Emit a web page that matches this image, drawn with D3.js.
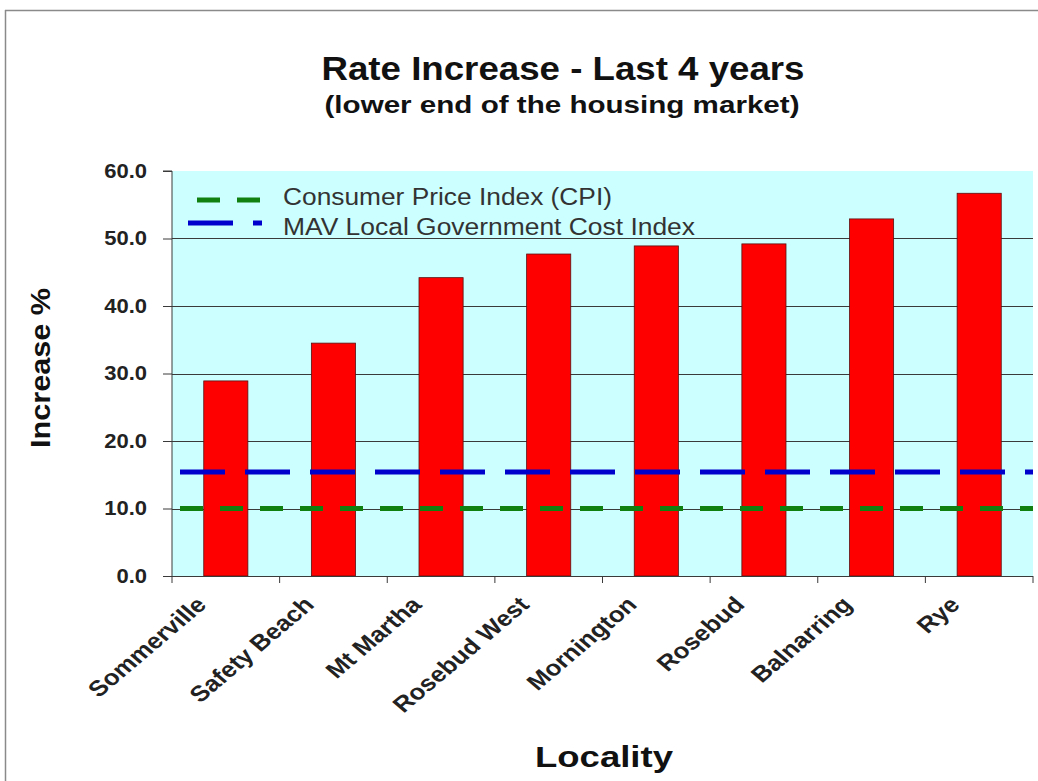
<!DOCTYPE html>
<html>
<head>
<meta charset="utf-8">
<script src="https://cdn.jsdelivr.net/npm/d3@7"></script>
<style>
  html, body { margin: 0; padding: 0; background: #fff; }
  svg { display: block; font-family: "Liberation Sans", Arial, sans-serif; }
</style>
</head>
<body>
<svg id="chart" width="1038" height="781"></svg>
<script>
// ---- data ----
const localities = ["Sommerville", "Safety Beach", "Mt Martha", "Rosebud West", "Mornington", "Rosebud", "Balnarring", "Rye"];
const increases = [28.9, 34.5, 44.2, 47.7, 48.9, 49.2, 52.9, 56.7];
const cpiValue = 10.0;
const mavValue = 15.4;
const yTicks = [0, 10, 20, 30, 40, 50, 60];
const seriesNames = ["Consumer Price Index (CPI)", "MAV Local Government Cost Index"];
const titleText = "Rate Increase - Last 4 years";
const subtitleText = "(lower end of the housing market)";
const xTitle = "Locality";
const yTitle = "Increase %";

// ---- layout ----
const plot = { left: 172, right: 1033, top: 171, bottom: 576 };
const svg = d3.select("#chart");

// outer frame
svg.append("line").attr("x1", 5).attr("x2", 1038).attr("y1", 10.5).attr("y2", 10.5).attr("stroke", "#8a8a8a").attr("stroke-width", 1.5);
svg.append("line").attr("x1", 5.5).attr("x2", 5.5).attr("y1", 10).attr("y2", 781).attr("stroke", "#8a8a8a").attr("stroke-width", 1.5);

const x = d3.scaleBand().domain(localities).range([plot.left, plot.right]).paddingInner(0.59).paddingOuter(0.295);
const y = d3.scaleLinear().domain([0, 60]).range([plot.bottom, plot.top]);

// plot background
svg.append("rect").attr("x", plot.left).attr("y", plot.top)
  .attr("width", plot.right - plot.left).attr("height", plot.bottom - plot.top)
  .attr("fill", "#CCFFFF");

// gridlines (not at top)
svg.append("g").selectAll("line").data(yTicks.filter(t => t > 0 && t < 60)).join("line")
  .attr("x1", plot.left).attr("x2", plot.right)
  .attr("y1", d => Math.round(y(d)) + 0.5).attr("y2", d => Math.round(y(d)) + 0.5)
  .attr("stroke", "#3a3a3a").attr("stroke-width", 1);

// bars
svg.append("g").selectAll("rect").data(localities).join("rect")
  .attr("x", (d) => x(d))
  .attr("y", (d, i) => y(increases[i]))
  .attr("width", x.bandwidth())
  .attr("height", (d, i) => y(0) - y(increases[i]))
  .attr("fill", "#FF0000")
  .attr("stroke", "#5a1010").attr("stroke-width", 0.8);

// reference lines
const lineGen = d3.line().x(d => d[0]).y(d => d[1]);
svg.append("path")
  .attr("d", lineGen([[plot.left + 8, y(cpiValue)], [plot.right, y(cpiValue)]]))
  .attr("stroke", "#108010").attr("stroke-width", 5).attr("stroke-dasharray", "23,17").attr("fill", "none");
svg.append("path")
  .attr("d", lineGen([[plot.left + 8, y(mavValue)], [plot.right, y(mavValue)]]))
  .attr("stroke", "#0000CC").attr("stroke-width", 5).attr("stroke-dasharray", "45,20").attr("fill", "none");

// y axis
const yAxis = d3.axisLeft(y).tickValues(yTicks).tickSize(9).tickFormat(d3.format(".1f"));
const gy = svg.append("g").attr("transform", `translate(${plot.left},0)`).call(yAxis);
gy.attr("font-size", null).attr("font-family", null);
gy.select(".domain").attr("stroke", "#3a3a3a").attr("d", `M-9,${plot.top}H0V${plot.bottom}`);
gy.selectAll(".tick line").attr("stroke", "#3a3a3a");
gy.selectAll(".tick text")
  .attr("x", -25)
  .style("font-family", "'Liberation Sans', Arial, sans-serif")
  .style("font-size", "20px").style("font-weight", "bold").attr("fill", "#222")
  .each(function () {
    const len = this.getComputedTextLength();
    d3.select(this).attr("textLength", len * 1.1).attr("lengthAdjust", "spacingAndGlyphs");
  });

// x axis (ticks at category boundaries)
const gx = svg.append("g").attr("transform", `translate(0,${plot.bottom})`);
gx.append("line").attr("x1", plot.left).attr("x2", plot.right).attr("y1", 0.5).attr("y2", 0.5).attr("stroke", "#3a3a3a");
gx.selectAll("line.tk").data(d3.range(localities.length + 1)).join("line").attr("class", "tk")
  .attr("x1", i => plot.left + i * x.step()).attr("x2", i => plot.left + i * x.step())
  .attr("y1", 0).attr("y2", 7).attr("stroke", "#3a3a3a");

// x labels rotated (slightly stretched horizontally like the reference)
svg.append("g").selectAll("text").data(localities).join("text")
  .attr("transform", d => `translate(${x(d) + x.bandwidth() / 2 - 18},${606}) scale(1.18,1) rotate(-45)`)
  .attr("text-anchor", "end")
  .attr("font-size", 22).attr("font-weight", "bold").attr("fill", "#222")
  .text(d => d);

// legend
const legend = svg.append("g");
legend.append("path").attr("d", lineGen([[197, 200], [260, 200]]))
  .attr("stroke", "#108010").attr("stroke-width", 5).attr("stroke-dasharray", "23,17");
legend.append("path").attr("d", lineGen([[188, 223], [262, 223]]))
  .attr("stroke", "#0000CC").attr("stroke-width", 5).attr("stroke-dasharray", "45,20");
legend.append("text").attr("x", 283).attr("y", 205).attr("font-size", 23).attr("fill", "#333")
  .attr("textLength", 329).attr("lengthAdjust", "spacingAndGlyphs").text(seriesNames[0]);
legend.append("text").attr("x", 283).attr("y", 235).attr("font-size", 23).attr("fill", "#333")
  .attr("textLength", 412).attr("lengthAdjust", "spacingAndGlyphs").text(seriesNames[1]);

// titles
svg.append("text").attr("x", 563).attr("y", 80).attr("text-anchor", "middle")
  .attr("font-size", 33).attr("font-weight", "bold").attr("fill", "#111")
  .attr("textLength", 483).attr("lengthAdjust", "spacingAndGlyphs").text(titleText);
svg.append("text").attr("x", 562).attr("y", 113).attr("text-anchor", "middle")
  .attr("font-size", 24).attr("font-weight", "bold").attr("fill", "#111")
  .attr("textLength", 475).attr("lengthAdjust", "spacingAndGlyphs").text(subtitleText);
svg.append("text").attr("x", 604).attr("y", 767).attr("text-anchor", "middle")
  .attr("font-size", 30).attr("font-weight", "bold").attr("fill", "#111")
  .attr("textLength", 138).attr("lengthAdjust", "spacingAndGlyphs").text(xTitle);
svg.append("text").attr("transform", "translate(50,368) rotate(-90)").attr("text-anchor", "middle")
  .attr("font-size", 28).attr("font-weight", "bold").attr("fill", "#111")
  .attr("textLength", 160).attr("lengthAdjust", "spacingAndGlyphs").text(yTitle);
</script>
</body>
</html>
